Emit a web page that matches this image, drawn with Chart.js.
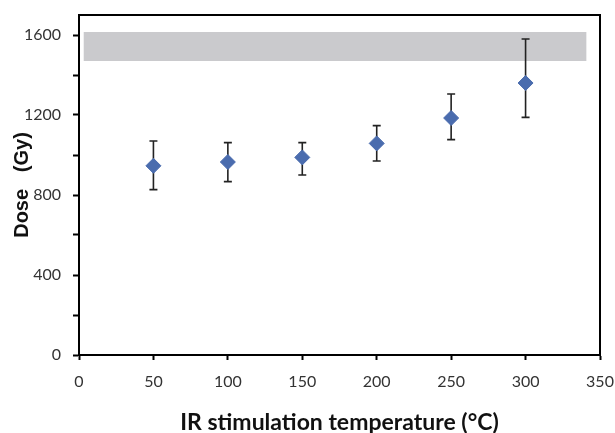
<!DOCTYPE html>
<html>
<head>
<meta charset="utf-8">
<script src="https://cdn.jsdelivr.net/npm/chart.js@4"></script>
<style>
  html, body { margin: 0; padding: 0; background: #fff; }
  #wrap { width: 615px; height: 433px; }
</style>
</head>
<body>
<div id="wrap"><canvas id="c" width="615" height="433"></canvas></div>
<script>
// IR stimulation temperature (°C) vs dose (Gy)
var temps = [50, 100, 150, 200, 250, 300];
var doses = [946, 965, 988, 1058, 1185, 1360];
var errLow = [827, 867, 900, 970, 1077, 1188];
var errHigh = [1070, 1062, 1062, 1147, 1305, 1580];

// grey reference band
var bandX = [3, 341];
var bandTop = [1615, 1615];
var bandBottom = [1470, 1470];

var xTicks = [0, 50, 100, 150, 200, 250, 300, 350];
var yLabelled = [0, 400, 800, 1200, 1600];

var pts = temps.map(function(x, i) { return { x: x, y: doses[i] }; });

// error bars, drawn just before the diamonds
var errorBars = {
  id: "errorBars",
  beforeDatasetDraw: function(chart, args) {
    if (args.index !== 0) return;
    var ctx = chart.ctx, xs = chart.scales.x, ys = chart.scales.y;
    ctx.save();
    ctx.strokeStyle = "#222";
    ctx.lineWidth = 1.6;
    temps.forEach(function(t, i) {
      var px = xs.getPixelForValue(t);
      var lo = ys.getPixelForValue(errLow[i]);
      var hi = ys.getPixelForValue(errHigh[i]);
      ctx.beginPath();
      ctx.moveTo(px, lo); ctx.lineTo(px, hi);
      ctx.moveTo(px - 4, lo); ctx.lineTo(px + 4, lo);
      ctx.moveTo(px - 4, hi); ctx.lineTo(px + 4, hi);
      ctx.stroke();
    });
    ctx.restore();
  }
};

// frame around the plot area
var frame = {
  id: "frame",
  afterDraw: function(chart) {
    var a = chart.chartArea, ctx = chart.ctx;
    ctx.save();
    ctx.strokeStyle = "#000";
    ctx.lineWidth = 2;
    ctx.strokeRect(a.left, a.top, a.right - a.left, a.bottom - a.top);
    ctx.restore();
  }
};

new Chart(document.getElementById("c").getContext("2d"), {
  type: "scatter",
  data: {
    datasets: [
      {
        data: pts,
        pointStyle: "rectRot",
        pointRadius: 7.5,
        pointHoverRadius: 7.5,
        backgroundColor: "#4a6cae",
        borderColor: "#4a6cae",
        borderWidth: 1,
        showLine: false
      },
      {
        type: "line",
        data: bandX.map(function(x, i) { return { x: x, y: bandTop[i] }; }),
        borderWidth: 0,
        pointRadius: 0,
        backgroundColor: "#cacacd",
        fill: "+1"
      },
      {
        type: "line",
        data: bandX.map(function(x, i) { return { x: x, y: bandBottom[i] }; }),
        borderWidth: 0,
        pointRadius: 0,
        fill: false
      }
    ]
  },
  options: {
    responsive: false,
    animation: false,
    layout: { padding: { top: 15, right: 15, left: 0, bottom: 0 } },
    plugins: { legend: { display: false }, tooltip: { enabled: false } },
    scales: {
      x: {
        type: "linear",
        min: 0, max: 350,
        afterBuildTicks: function(s) { s.ticks = xTicks.map(function(v) { return { value: v }; }); },
        afterFit: function(s) { s.height = 78; s.paddingRight = 0; s.paddingLeft = 0; },
        grid: { drawOnChartArea: false, tickLength: 5, tickColor: "#000", tickWidth: 2 },
        border: { display: true, color: "#000", width: 2 },
        ticks: { color: "#333", font: { family: "Lato", size: 16 }, padding: 12, maxRotation: 0 },
        title: {
          display: true,
          text: "IR stimulation temperature (°C)",
          color: "#111",
          font: { family: "Lato", size: 23, weight: "bold" },
          padding: { top: 10, bottom: -3 }
        }
      },
      y: {
        type: "linear",
        min: 0, max: 1700,
        ticks: {
          stepSize: 100,
          color: "#333",
          font: { family: "Lato", size: 16 },
          padding: 12,
          callback: function(v) { return yLabelled.indexOf(v) >= 0 ? String(v) : ""; }
        },
        afterFit: function(s) { s.width = 79; s.paddingTop = 0; s.paddingBottom = 0; },
        grid: { drawOnChartArea: false, tickLength: 6, tickColor: "#000", tickWidth: 2 },
        border: { display: true, color: "#000", width: 2 },
        title: {
          display: true,
          text: "Dose   (Gy)",
          color: "#111",
          font: { family: "Liberation Sans", size: 20, weight: "bold" },
          padding: { top: 10, bottom: 0 }
        }
      }
    }
  },
  plugins: [errorBars, frame]
});
</script>
</body>
</html>
